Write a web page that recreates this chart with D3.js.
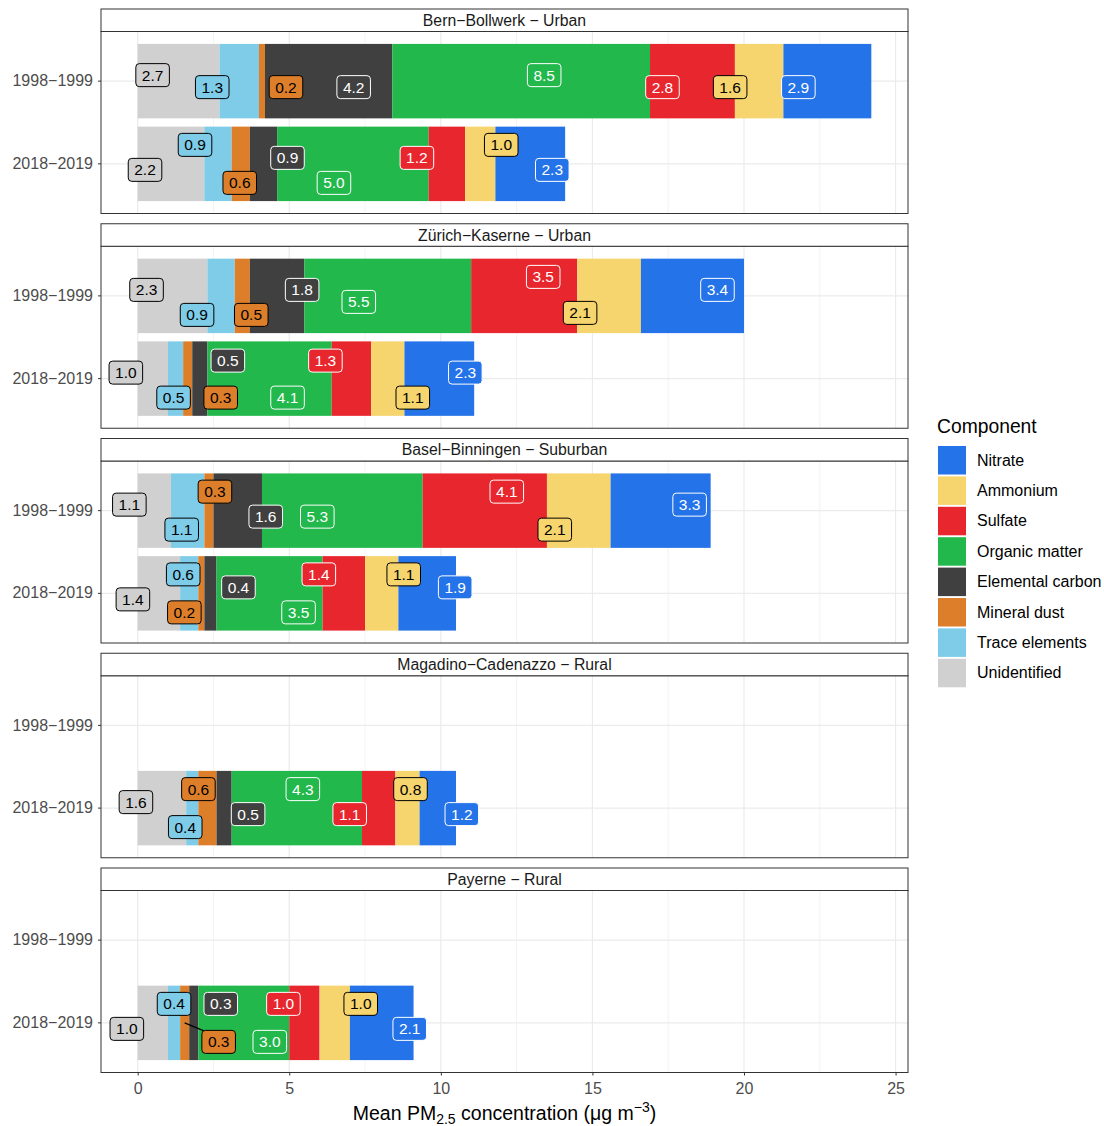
<!DOCTYPE html>
<html>
<head>
<meta charset="utf-8">
<script src="https://cdn.jsdelivr.net/npm/d3@7"></script>
<style>
  body { margin: 0; background: #fff; }
  svg { font-family: "Liberation Sans", Arial, sans-serif; }
</style>
</head>
<body>
<div id="chart"></div>
<script>
// categories
var sites = ["Bern\u2212Bollwerk \u2212 Urban", "Z\u00fcrich\u2212Kaserne \u2212 Urban",
  "Basel\u2212Binningen \u2212 Suburban", "Magadino\u2212Cadenazzo \u2212 Rural", "Payerne \u2212 Rural"];
var periods = ["1998\u22121999", "2018\u22122019"];
// stack order, left to right
var components = ["Unidentified", "Trace elements", "Mineral dust", "Elemental carbon",
  "Organic matter", "Sulfate", "Ammonium", "Nitrate"];
var colors = ["#d0d0d0", "#7ecce8", "#dd7f2a", "#404040", "#22b84b", "#e8262e", "#f6d46e", "#2473e8"];
var darkFill = [false, false, false, true, true, true, false, true];

// mean concentrations (µg/m3), same order as components
var bern1998     = [2.7, 1.3, 0.2, 4.2, 8.5, 2.8, 1.6, 2.9];
var bern2018     = [2.2, 0.9, 0.6, 0.9, 5.0, 1.2, 1.0, 2.3];
var zurich1998   = [2.3, 0.9, 0.5, 1.8, 5.5, 3.5, 2.1, 3.4];
var zurich2018   = [1.0, 0.5, 0.3, 0.5, 4.1, 1.3, 1.1, 2.3];
var basel1998    = [1.1, 1.1, 0.3, 1.6, 5.3, 4.1, 2.1, 3.3];
var basel2018    = [1.4, 0.6, 0.2, 0.4, 3.5, 1.4, 1.1, 1.9];
var magadino2018 = [1.6, 0.4, 0.6, 0.5, 4.3, 1.1, 0.8, 1.2];
var payerne2018  = [1.0, 0.4, 0.3, 0.3, 3.0, 1.0, 1.0, 2.1];
var siteValues = [
  [bern1998, bern2018],
  [zurich1998, zurich2018],
  [basel1998, basel2018],
  [null, magadino2018],
  [null, payerne2018]
];
var xTicks = [0, 5, 10, 15, 20, 25];

// label nudges (px) from the segment centre, like the repelled labels
var nudgeX = [
  [[-26, -27, 24, 25, 23, -30, -29, -29], [-26, -23, -1, 24, -19, -30, 21, 22]],
  [[-26, -24, 9, 25, -29, 19, -29, 25], [-27, -2, 33, 28, 18, -26, 25, 26]],
  [[-25, -6, 6, 28, -25, 22, -24, 29], [-26, -6, -17, 28, 29, -25, 22, 28]],
  [null, [-26, -7, -9, 24, 6, -29, 3, 24]],
  [null, [-26, 0, 34, 27, 26, -21, 26, 28]]
];
var nudgeY = [
  [[-6, 6, 6, 6, -6, 6, 6, 6], [6, -19, 19, -6, 19, -6, -19, 6]],
  [[-6, 19, 19, -6, 6, -19, 17, -6], [-6, 19, 19, -18, 19, -18, 19, -6]],
  [[-6, 19, -19, 6, 6, -19, 19, -6], [6, -19, 19, -6, 19, -19, -19, -6]],
  [null, [-6, 19, -19, 6, -19, 6, -19, 6]],
  [null, [6, -19, 19, -19, 19, -19, -19, 6]]
];

var W = 1104, H = 1126;
var panelLeft = 101, panelRight = 908;
var firstTop = 9, panelStep = 214.75, stripH = 22.5, plotH = 182;

var svg = d3.select("#chart").append("svg")
  .attr("width", W).attr("height", H);

var maxTotal = d3.max(siteValues, s => d3.max(s, v => v ? d3.sum(v) : 0));
var pad = maxTotal * 0.05;
var x = d3.scaleLinear().domain([-pad, maxTotal + pad]).range([panelLeft, panelRight]);
var y = d3.scaleBand().domain(periods).range([0, plotH]).paddingInner(0.1).paddingOuter(0.15);

sites.forEach(function(site, i) {
  var top = firstTop + i * panelStep;
  var g = svg.append("g").attr("transform", `translate(0,${top + stripH})`);

  // strip
  svg.append("rect")
    .attr("x", panelLeft).attr("y", top)
    .attr("width", panelRight - panelLeft).attr("height", stripH)
    .attr("fill", "#fff").attr("stroke", "#333").attr("stroke-width", 1);
  svg.append("text")
    .attr("x", (panelLeft + panelRight) / 2).attr("y", top + stripH / 2 + 5.5)
    .attr("text-anchor", "middle").attr("font-size", 15.8).attr("fill", "#1a1a1a")
    .text(site);

  // grid
  var minor = d3.range(2.5, 25, 5);
  g.selectAll(".minor").data(minor).enter().append("line")
    .attr("x1", d => x(d)).attr("x2", d => x(d)).attr("y1", 0).attr("y2", plotH)
    .attr("stroke", "#ebebeb").attr("stroke-width", 0.6);
  g.selectAll(".major").data(xTicks).enter().append("line")
    .attr("x1", d => x(d)).attr("x2", d => x(d)).attr("y1", 0).attr("y2", plotH)
    .attr("stroke", "#ebebeb").attr("stroke-width", 1.2);
  g.selectAll(".hgrid").data(periods).enter().append("line")
    .attr("x1", panelLeft).attr("x2", panelRight)
    .attr("y1", d => y(d) + y.bandwidth() / 2).attr("y2", d => y(d) + y.bandwidth() / 2)
    .attr("stroke", "#ebebeb").attr("stroke-width", 1.2);

  // bars
  var labels = [];
  periods.forEach(function(p, j) {
    var vals = siteValues[i][j];
    if (!vals) return;
    var cum = 0;
    vals.forEach(function(v, k) {
      var x0 = cum, x1 = cum + v;
      cum = x1;
      g.append("rect")
        .attr("x", x(x0)).attr("y", y(p))
        .attr("width", x(x1) - x(x0)).attr("height", y.bandwidth())
        .attr("fill", colors[k]);
      var cx = (x(x0) + x(x1)) / 2, cy = y(p) + y.bandwidth() / 2;
      labels.push({
        value: v, k: k, px: cx, py: cy,
        lx: cx + nudgeX[i][j][k], ly: cy + nudgeY[i][j][k]
      });
    });
  });

  // connector lines for labels pushed far away
  labels.filter(d => Math.abs(d.lx - d.px) > 33.5).forEach(function(d) {
    g.append("line")
      .attr("x1", d.px).attr("y1", d.py)
      .attr("x2", d.lx - 10).attr("y2", d.ly - 9)
      .attr("stroke", "#000").attr("stroke-width", 1.2);
  });

  // labels
  labels.forEach(function(d) {
    var lg = g.append("g").attr("transform", `translate(${d.lx},${d.ly})`);
    var t = lg.append("text")
      .attr("text-anchor", "middle").attr("y", 5.5)
      .attr("font-size", 15.5)
      .attr("fill", darkFill[d.k] ? "#fff" : "#000")
      .text(d3.format(".1f")(d.value));
    var w = t.node().getComputedTextLength() + 12;
    lg.insert("rect", "text")
      .attr("x", -w / 2).attr("y", -11.5).attr("width", w).attr("height", 23)
      .attr("rx", 3.5).attr("ry", 3.5)
      .attr("fill", colors[d.k])
      .attr("stroke", darkFill[d.k] ? "#fff" : "#000").attr("stroke-width", 1);
  });

  // panel border
  g.append("rect")
    .attr("x", panelLeft).attr("y", 0)
    .attr("width", panelRight - panelLeft).attr("height", plotH)
    .attr("fill", "none").attr("stroke", "#333").attr("stroke-width", 1);

  // y axis
  var yAxis = g.append("g").attr("transform", `translate(${panelLeft},0)`)
    .call(d3.axisLeft(y).tickSize(3).tickPadding(5));
  yAxis.select(".domain").remove();
  yAxis.selectAll("line").attr("stroke", "#333");
  yAxis.selectAll("text").attr("font-size", 16).attr("fill", "#4d4d4d")
    .attr("font-family", "Liberation Sans, Arial, sans-serif");

  // x axis on the bottom panel
  if (i === sites.length - 1) {
    var xAxis = g.append("g").attr("transform", `translate(0,${plotH})`)
      .call(d3.axisBottom(x).tickValues(xTicks).tickSize(3).tickPadding(7));
    xAxis.select(".domain").remove();
    xAxis.selectAll("line").attr("stroke", "#333");
    xAxis.selectAll("text").attr("font-size", 16).attr("fill", "#4d4d4d")
      .attr("font-family", "Liberation Sans, Arial, sans-serif");
  }
});

// x axis title
var title = svg.append("text")
  .attr("x", (panelLeft + panelRight) / 2).attr("y", 1120)
  .attr("text-anchor", "middle").attr("font-size", 19.5).attr("fill", "#000");
title.append("tspan").text("Mean PM");
title.append("tspan").attr("font-size", 14).attr("dy", 4).text("2.5");
title.append("tspan").attr("dy", -4).text(" concentration (\u03bcg m");
title.append("tspan").attr("font-size", 14).attr("dy", -8).text("\u22123");
title.append("tspan").attr("dy", 8).text(")");

// legend
var legend = svg.append("g").attr("transform", "translate(938,0)");
legend.append("text").attr("x", -1).attr("y", 433)
  .attr("font-size", 19.3).attr("fill", "#000").text("Component");
var legendItems = components.map((c, k) => ({name: c, color: colors[k]})).reverse();
legendItems.forEach(function(d, n) {
  var yy = 446 + n * 30.4;
  legend.append("rect").attr("x", 0).attr("y", yy)
    .attr("width", 28).attr("height", 28.5).attr("fill", d.color);
  legend.append("text").attr("x", 39).attr("y", yy + 19.5)
    .attr("font-size", 16).attr("fill", "#000").text(d.name);
});
</script>
</body>
</html>
